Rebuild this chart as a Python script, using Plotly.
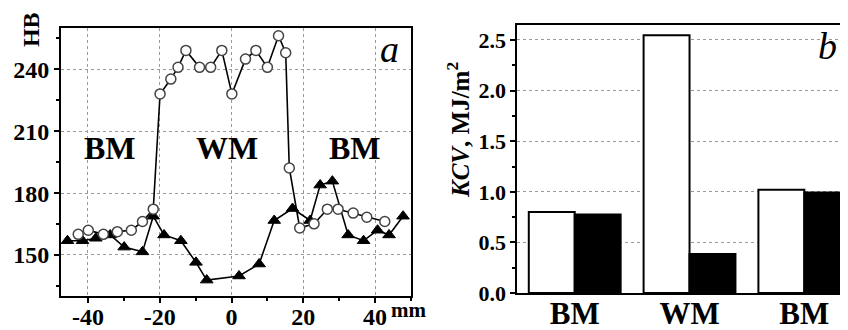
import plotly.graph_objects as go

# Panel a: hardness profile
circ_x = [-42.7, -39.9, -35.7, -31.8, -27.9, -24.8, -21.8, -19.9, -16.9, -14.9, -12.7, -8.9, -5.8,
          -2.7, 0.1, 3.9, 6.8, 10.0, 13.1, 15.1, 16.1, 19.0, 23.0, 26.7, 29.7, 33.9, 37.7, 42.7]
circ_y = [160.0, 162.0, 160.0, 161.3, 162.0, 166.2, 172.2, 228.1, 235.3, 241.0, 249.2, 241.0, 241.0,
          249.2, 228.1, 245.0, 249.2, 241.0, 256.3, 248.1, 192.2, 163.1, 165.1, 172.2, 172.2, 170.3, 168.3, 166.2]

tri_x = [-45.7, -41.5, -37.8, -33.8, -29.9, -24.8, -21.8, -18.8, -14.1, -9.9, -6.9, 2.1, 7.7,
         11.9, 17.0, 21.9, 24.7, 28.1, 32.5, 36.8, 40.7, 43.9, 47.8]
tri_y = [156.9, 156.9, 158.1, 159.7, 153.8, 151.5, 168.8, 159.7, 156.9, 146.4, 137.8, 139.8, 145.6,
         166.7, 172.5, 166.7, 183.9, 185.8, 159.7, 156.9, 162.0, 159.7, 168.8]

a_xticks = [-40, -20, 0, 20, 40]
a_yticks = [150, 180, 210, 240]
zone_labels = ["BM", "WM", "BM"]

# Panel b: impact toughness
b_categories = ["BM", "WM", "BM"]
b_open = [0.80, 2.546, 1.02]
b_filled = [0.775, 0.386, 0.993]
b_yticks = [0.0, 0.5, 1.0, 1.5, 2.0, 2.5]

SERIF = "Liberation Serif"

fig = go.Figure()

fig.add_trace(go.Scatter(
    x=tri_x, y=tri_y, mode="lines+markers",
    line=dict(color="black", width=1.6),
    marker=dict(symbol="triangle-up", size=11, color="black", line=dict(color="black", width=1)),
    xaxis="x", yaxis="y", showlegend=False))

fig.add_trace(go.Scatter(
    x=circ_x, y=circ_y, mode="lines+markers",
    line=dict(color="black", width=1.6),
    marker=dict(symbol="circle", size=10, color="white", line=dict(color="#444", width=1.5)),
    xaxis="x", yaxis="y", showlegend=False))

bx = list(range(len(b_categories)))
fig.add_trace(go.Bar(x=bx, y=b_open, marker=dict(color="white", line=dict(color="black", width=2)),
                     xaxis="x2", yaxis="y2", showlegend=False))
fig.add_trace(go.Bar(x=bx, y=b_filled, marker=dict(color="black", line=dict(color="black", width=2)),
                     xaxis="x2", yaxis="y2", showlegend=False))

tickfont_a = dict(family=SERIF, size=24, color="black", weight="bold")
tickfont_b = dict(family=SERIF, size=22, color="black", weight="bold")

def bold(vals, fmt="{}"):
    return ["<b>" + fmt.format(v) + "</b>" for v in vals]

fig.update_layout(
    width=848, height=330,
    margin=dict(l=0, r=0, t=0, b=0),
    paper_bgcolor="white", plot_bgcolor="white",
    barmode="group", bargap=0.2, bargroupgap=0,
    xaxis=dict(domain=[0.0625, 0.4752], anchor="y", range=[-47.5, 50],
               tickvals=a_xticks, ticktext=bold(a_xticks), tickfont=tickfont_a,
               ticklabelstandoff=-7,
               showline=True, linecolor="black", linewidth=2, mirror=True,
               ticks="outside", ticklen=5, tickcolor="black", tickwidth=1.5,
               minor=dict(dtick=10, tick0=0, ticks="outside", ticklen=3, tickcolor="black", showgrid=False),
               showgrid=True, gridcolor="#9a9a9a", griddash="dot", gridwidth=1, zeroline=False),
    yaxis=dict(domain=[0.0909, 0.9364], anchor="x", range=[130, 260],
               tickvals=a_yticks, ticktext=bold(a_yticks), tickfont=tickfont_a,
               showline=True, linecolor="black", linewidth=2, mirror=True,
               ticks="outside", ticklen=5, tickcolor="black", tickwidth=1.5,
               minor=dict(dtick=15, tick0=0, ticks="outside", ticklen=3, tickcolor="black", showgrid=False),
               showgrid=True, gridcolor="#9a9a9a", griddash="dot", gridwidth=1, zeroline=False),
    xaxis2=dict(domain=[0.6006, 1.0], anchor="y2", range=[-0.5, 2.45],
                tickvals=bx, ticktext=bold(b_categories),
                tickfont=dict(family=SERIF, size=31, color="black", weight="bold"),
                ticklabelstandoff=-8,
                showline=True, linecolor="black", linewidth=2, mirror=True,
                ticks="", showgrid=False, zeroline=False),
    yaxis2=dict(domain=[0.1009, 0.9476], anchor="x2", range=[0, 2.652],
                tickvals=b_yticks, ticktext=bold(b_yticks, "{:.1f}"), tickfont=tickfont_b,
                showline=True, linecolor="black", linewidth=2, mirror=False,
                ticks="outside", ticklen=5, tickcolor="black", tickwidth=1.5,
                minor=dict(dtick=0.25, tick0=0, ticks="outside", ticklen=3, tickcolor="black", showgrid=False),
                showgrid=True, gridcolor="#9a9a9a", griddash="dot", gridwidth=1, zeroline=False),
)

ann = []
ann.append(dict(text="<b>HB</b>", x=23 / 848, y=(330 - 23) / 330, xref="paper", yref="paper",
                textangle=-90, showarrow=False, xanchor="center", yanchor="middle",
                font=dict(family=SERIF, size=24, color="black")))
ann.append(dict(text="<i>a</i>", x=381 / 848, y=(330 - 43) / 330, xref="paper", yref="paper",
                showarrow=False, xanchor="center", yanchor="middle",
                font=dict(family=SERIF, size=38, color="black")))
ann.append(dict(text="<b>mm</b>", x=381 / 848, y=(330 - 314) / 330, xref="paper", yref="paper",
                showarrow=False, xanchor="left", yanchor="middle",
                font=dict(family=SERIF, size=21, color="black")))
for lbl, px in zip(zone_labels, [102, 219, 347]):
    ann.append(dict(text="<b>" + lbl + "</b>", x=px / 848, y=(330 - 146) / 330, xref="paper", yref="paper",
                    showarrow=False, xanchor="center", yanchor="middle",
                    font=dict(family=SERIF, size=32, color="black")))
ann.append(dict(text="<i>b</i>", x=819 / 848, y=(330 - 40) / 330, xref="paper", yref="paper",
                showarrow=False, xanchor="center", yanchor="middle",
                font=dict(family=SERIF, size=38, color="black")))
ann.append(dict(text="<b><i>KCV</i>, MJ/m<sup>2</sup></b>", x=450 / 848, y=(330 - 127) / 330,
                xref="paper", yref="paper", textangle=-90, showarrow=False,
                xanchor="center", yanchor="middle",
                font=dict(family=SERIF, size=25, color="black")))
fig.update_layout(annotations=ann)

fig.write_html("out.html")
